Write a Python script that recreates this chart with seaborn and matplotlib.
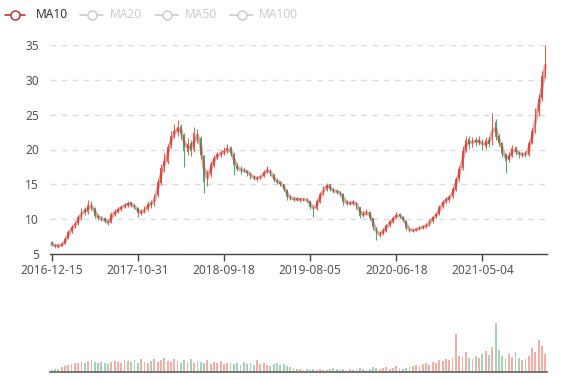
import numpy as np
import pandas as pd
import seaborn as sns
import matplotlib.pyplot as plt
from matplotlib.lines import Line2D

# roughly 8-9 trading days per candle
opens = [
    6.7, 6.3, 6.0, 6.2, 6.5, 7.3, 8.3, 9.1, 9.4, 10.1,
    11.4, 11.0, 12.3, 11.6, 10.4, 10.1, 10.1, 9.6, 9.5, 10.7,
    11.1, 11.4, 11.9, 12.0, 12.4, 12.1, 11.6, 10.9, 11.1, 11.4,
    12.3, 12.0, 13.4, 15.2, 17.6, 18.2, 20.6, 22.2, 22.5, 23.4,
    22.1, 19.6, 20.9, 19.9, 22.6, 21.6, 19.0, 15.3, 16.5, 17.8,
    18.9, 19.4, 19.6, 19.9, 20.3, 19.4, 17.7, 17.1, 17.1, 16.9,
    16.5, 16.0, 15.8, 15.9, 16.2, 16.9, 17.0, 16.4, 15.5, 15.3,
    15.0, 14.2, 13.1, 12.8, 13.0, 12.7, 12.9, 12.8, 12.6, 11.7,
    11.5, 12.5, 13.7, 14.4, 15.0, 14.2, 14.1, 13.8, 13.6, 12.5,
    12.2, 12.3, 12.4, 11.7, 10.6, 10.9, 11.0, 10.1, 8.8, 7.8,
    8.0, 8.3, 9.2, 9.6, 10.3, 10.7, 10.3, 9.8, 8.6, 8.3,
    8.5, 8.5, 8.8, 9.0, 9.2, 9.7, 10.4, 10.8, 11.9, 12.6,
    12.8, 13.3, 14.2, 15.9, 17.3, 20.0, 21.5, 20.7, 21.4, 21.0,
    21.2, 20.4, 21.4, 20.9, 24.0, 21.9, 20.9, 19.3, 18.5, 19.1,
    20.3, 19.5, 19.2, 19.4, 19.2, 21.0, 22.8, 25.5, 27.4, 30.7,
]
closes = [
    6.4, 6.1, 6.2, 6.4, 7.2, 8.2, 8.9, 9.3, 10.3, 11.2,
    11.0, 12.1, 11.7, 10.5, 10.2, 10.0, 9.7, 9.5, 10.8, 11.0,
    11.5, 11.8, 12.0, 12.3, 12.0, 11.7, 10.9, 11.0, 11.5, 12.2,
    12.1, 13.3, 15.3, 17.4, 18.3, 20.4, 22.0, 22.6, 23.2, 22.3,
    19.8, 20.8, 19.8, 22.4, 21.8, 19.2, 15.4, 16.4, 17.9, 18.8,
    19.3, 19.5, 19.8, 20.2, 19.5, 17.8, 17.2, 17.0, 17.0, 16.6,
    16.1, 15.9, 15.9, 16.1, 16.8, 17.1, 16.5, 15.6, 15.4, 15.1,
    14.3, 13.2, 13.0, 12.9, 12.8, 12.9, 12.8, 12.7, 11.8, 11.4,
    12.6, 13.6, 14.5, 14.9, 14.3, 14.0, 13.9, 13.7, 12.4, 12.3,
    12.3, 12.5, 11.8, 10.5, 10.8, 11.1, 10.2, 8.9, 7.7, 7.9,
    8.4, 9.1, 9.7, 10.2, 10.6, 10.4, 9.9, 8.7, 8.4, 8.4,
    8.6, 8.8, 8.9, 9.1, 9.8, 10.3, 10.7, 11.8, 12.5, 12.9,
    13.2, 14.3, 15.8, 17.2, 19.8, 21.3, 20.8, 21.3, 21.1, 21.3,
    20.3, 21.3, 20.8, 24.3, 21.8, 21.0, 19.4, 18.4, 19.2, 20.2,
    19.6, 19.3, 19.3, 19.3, 20.9, 22.7, 25.4, 27.2, 30.5, 33.6,
]
highs = [
    6.8, 6.4, 6.4, 6.6, 7.4, 8.5, 9.2, 9.8, 10.6, 11.6,
    11.7, 12.8, 12.6, 11.8, 10.7, 10.4, 10.3, 9.9, 11.0, 11.4,
    11.8, 12.1, 12.3, 12.6, 12.5, 12.2, 11.8, 11.4, 11.9, 12.6,
    12.7, 13.6, 15.7, 17.9, 19.5, 20.8, 22.6, 23.6, 24.2, 23.6,
    22.4, 21.6, 21.3, 23.3, 23.0, 21.9, 19.2, 17.0, 18.4, 19.2,
    19.7, 19.9, 20.3, 20.8, 20.5, 19.6, 18.0, 17.6, 17.4, 17.1,
    16.7, 16.3, 16.2, 16.4, 17.1, 17.6, 17.2, 16.6, 15.8, 15.5,
    15.1, 14.3, 13.4, 13.2, 13.2, 13.1, 13.1, 13.0, 12.7, 11.9,
    12.9, 13.9, 14.8, 15.2, 15.1, 14.5, 14.3, 14.1, 13.7, 12.7,
    12.6, 12.8, 12.5, 11.8, 11.2, 11.4, 11.2, 10.2, 8.9, 8.3,
    8.7, 9.3, 9.9, 10.4, 11.0, 10.9, 10.5, 9.9, 8.8, 8.6,
    8.8, 9.0, 9.2, 9.4, 10.0, 10.5, 10.9, 12.0, 12.8, 13.2,
    13.5, 14.6, 16.1, 17.6, 20.5, 22.0, 21.9, 21.8, 21.8, 22.0,
    21.5, 21.8, 21.8, 25.3, 24.4, 22.2, 21.1, 19.5, 19.6, 20.6,
    20.5, 19.8, 19.7, 19.8, 21.2, 23.1, 26.0, 28.0, 31.3, 35.0,
]
lows = [
    6.2, 5.9, 5.9, 6.1, 6.4, 7.1, 8.0, 8.8, 9.1, 9.9,
    10.6, 10.8, 11.3, 10.2, 9.9, 9.7, 9.5, 9.2, 9.4, 10.5,
    10.9, 11.2, 11.6, 11.8, 11.7, 11.4, 10.3, 10.6, 10.9, 11.2,
    11.6, 11.9, 13.2, 14.9, 16.8, 17.9, 20.2, 21.7, 22.0, 21.5,
    17.5, 19.2, 19.0, 19.6, 21.0, 18.6, 13.8, 14.8, 16.1, 17.5,
    18.6, 18.9, 19.2, 19.5, 19.0, 16.4, 16.9, 16.5, 16.7, 16.2,
    15.7, 15.6, 15.5, 15.7, 16.0, 16.6, 16.2, 15.3, 15.1, 14.8,
    14.0, 12.7, 12.7, 12.6, 12.6, 12.5, 12.6, 12.4, 11.5, 10.3,
    11.3, 12.3, 13.4, 14.1, 14.0, 13.7, 13.6, 13.4, 12.0, 12.0,
    12.0, 12.1, 11.5, 10.1, 10.3, 10.6, 9.9, 8.5, 7.0, 7.4,
    7.7, 8.1, 8.9, 9.4, 10.1, 10.2, 9.7, 8.4, 8.1, 8.1,
    8.3, 8.4, 8.6, 8.8, 9.0, 9.5, 10.1, 10.6, 11.6, 12.3,
    12.5, 13.0, 14.0, 15.5, 17.0, 19.6, 20.1, 20.3, 20.5, 20.6,
    19.9, 20.1, 20.3, 20.7, 21.4, 20.5, 18.9, 16.6, 18.2, 18.9,
    19.2, 18.8, 18.9, 18.9, 19.0, 20.8, 22.4, 24.8, 27.0, 30.2,
]
volumes = [
    2, 3, 3, 5, 6, 7, 8, 9, 9, 10,
    9, 11, 12, 10, 9, 10, 9, 8, 10, 11,
    10, 9, 12, 11, 10, 12, 9, 13, 10, 9,
    11, 13, 10, 12, 14, 11, 10, 13, 11, 9,
    12, 10, 13, 9, 11, 10, 9, 12, 8, 10,
    9, 11, 8, 9, 10, 8, 9, 7, 10, 8,
    9, 7, 12, 8, 9, 7, 6, 8, 9, 7,
    8, 6, 5, 4, 3, 3, 2, 3, 2, 3,
    2, 3, 2, 2, 3, 4, 3, 2, 3, 2,
    3, 2, 3, 4, 3, 2, 3, 5, 4, 3,
    4, 5, 3, 4, 6, 4, 3, 4, 5, 6,
    7, 6, 8, 9, 7, 10, 9, 12, 11, 13,
    12, 14, 38, 16, 15, 20, 14, 13, 16, 14,
    18, 21, 17, 25, 49, 22, 16, 13, 18, 15,
    20, 14, 12, 13, 16, 24, 20, 32, 26, 18,
]
tick_idx = [0, 26, 52, 78, 104, 130]
tick_labels = ["2016-12-15", "2017-10-31", "2018-09-18", "2019-08-05", "2020-06-18", "2021-05-04"]
legend_names = ["MA10", "MA20", "MA50", "MA100"]

UP = "#e8604f"
DOWN = "#4fa872"
MA_COLOR = "#c23531"
LABEL = "#555555"

sns.set_theme(style="white")
plt.rcParams["font.family"] = ["Noto Sans", "DejaVu Sans"]

df = pd.DataFrame({"open": opens, "close": closes, "high": highs, "low": lows, "volume": volumes})
df["idx"] = np.arange(len(df))
df["up"] = df["close"] >= df["open"]
df["ma10"] = df["close"].rolling(2, min_periods=1).mean()
colors = np.where(df["up"], UP, DOWN)

W, H = 577, 380
fig = plt.figure(figsize=(W / 100, H / 100), dpi=100)
ax = fig.add_axes([50 / W, 126 / H, 497 / W, 209 / H])
axv = fig.add_axes([50 / W, 8 / H, 497 / W, 57 / H], sharex=ax)

# candles
ax.vlines(df["idx"], df["low"], df["high"], colors=colors, lw=0.8, zorder=2)
body = (df["close"] - df["open"]).abs().clip(lower=0.08)
ax.bar(df["idx"], body, bottom=df[["open", "close"]].min(axis=1), width=0.5,
       color=colors, lw=0, zorder=3)
sns.lineplot(data=df, x="idx", y="ma10", ax=ax, color=MA_COLOR, lw=2.2, alpha=0.45, zorder=4)

ax.set_xlim(-0.5, len(df) - 0.5)
ax.set_ylim(5, 35)
ax.set_yticks(range(5, 36, 5))
ax.set_xticks(tick_idx, tick_labels)
ax.set_xlabel("")
ax.set_ylabel("")
ax.yaxis.grid(True, ls=(0, (4, 4)), color="#dcdcdc", lw=1)
ax.xaxis.grid(False)
for s in ["left", "right", "top"]:
    ax.spines[s].set_visible(False)
ax.spines["bottom"].set_color("#444444")
ax.spines["bottom"].set_linewidth(1)
ax.tick_params(axis="y", length=0, pad=8, labelcolor=LABEL, labelsize=8.6)
ax.tick_params(axis="x", length=5, width=1, color="#444444", pad=2,
               labelcolor=LABEL, labelsize=8.6, bottom=True)

# volume
axv.bar(df["idx"], df["volume"], width=0.55, color=colors, alpha=0.5, lw=0)
axv.set_ylim(0, 57)
for s in ["left", "right", "top"]:
    axv.spines[s].set_visible(False)
axv.spines["bottom"].set_color("#666666")
axv.tick_params(axis="both", length=0, labelbottom=False, labelleft=False)
axv.grid(False)

# legend
ly = (H - 15) / H
items = [(5, 25, 36), (80, 103, 110), (155, 178, 185), (230, 253, 259)]
for name, (x0, x1, tx) in zip(legend_names, items):
    on = name == "MA10"
    c = MA_COLOR if on else "#cccccc"
    fig.add_artist(Line2D([x0 / W, x1 / W], [ly, ly], color=c, lw=1.2, transform=fig.transFigure))
    fig.add_artist(Line2D([(x0 + x1) / 2 / W], [ly], marker="o", ms=6.5, mfc="white", mec=c,
                          mew=1.1, transform=fig.transFigure))
    fig.text(tx / W, ly, name, color="#333333" if on else "#cccccc", fontsize=8.6, va="center")

fig.savefig("out.png", dpi=100)
